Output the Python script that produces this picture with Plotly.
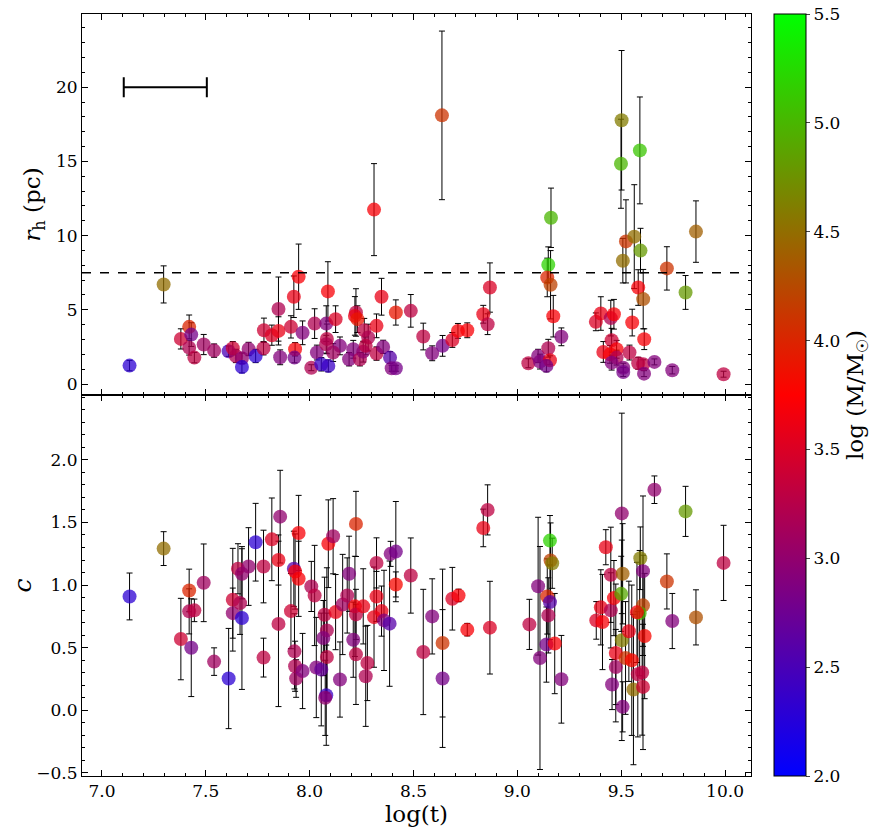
import plotly.graph_objs as go
from plotly.subplots import make_subplots

# top panel: half-light radius
t_top = [7.133, 7.297, 7.38, 7.42, 7.43, 7.42, 7.445, 7.49, 7.54, 7.61, 7.63, 7.645, 7.674, 7.674,
         7.706, 7.74, 7.778, 7.78, 7.818, 7.85, 7.85, 7.858, 7.91, 7.924, 7.947, 7.93, 7.927, 7.966,
         8.008, 8.024, 8.035, 8.056, 8.08, 8.088, 8.083, 8.09, 8.125, 8.08, 8.146, 8.113, 8.19, 8.21,
         8.223, 8.218, 8.23, 8.242, 8.258, 8.263, 8.282, 8.27, 8.31, 8.322, 8.346, 8.322, 8.354, 8.387,
         8.395, 8.415, 8.415, 8.487, 8.547, 8.59, 8.637, 8.64, 8.687, 8.714, 8.759, 8.836, 8.857, 8.868,
         9.053, 9.1, 9.109, 9.149, 9.157, 9.14, 9.149, 9.144, 9.16, 9.162, 9.173, 9.212, 9.378, 9.402,
         9.45, 9.465, 9.454, 9.414, 9.446, 9.478, 9.478, 9.454, 9.51, 9.51, 9.502, 9.499, 9.54, 9.523,
         9.508, 9.553, 9.563, 9.582, 9.593, 9.59, 9.582, 9.606, 9.606, 9.611, 9.61, 9.66, 9.72, 9.746,
         9.81, 9.86, 9.993]
rh = [1.24, 6.71, 3.04, 3.85, 3.33, 2.45, 1.78, 2.66, 2.25, 2.21, 2.41, 1.89, 1.74, 1.15,
      2.36, 1.89, 2.41, 3.62, 3.29, 3.58, 5.05, 1.8, 3.85, 5.88, 7.23, 2.34, 1.78, 3.45,
      1.1, 4.07, 2.12, 1.33, 4.07, 6.24, 3.04, 1.22, 4.37, 2.68, 2.57, 2.12, 1.67, 2.34,
      4.82, 4.59, 4.37, 1.67, 2.18, 3.62, 3.13, 2.57, 11.75, 3.92, 5.88, 2.05, 2.5, 1.78,
      1.06, 1.06, 4.82, 4.93, 3.2, 2.07, 18.1, 2.57, 2.97, 3.58, 3.62, 4.7, 4.03, 6.5,
      1.4, 1.89, 1.51, 2.41, 1.6, 1.22, 8.04, 7.18, 6.69, 11.2, 4.57, 3.18, 4.19, 4.75,
      4.44, 4.7, 2.95, 2.16, 2.0, 2.34, 1.78, 1.44, 1.1, 0.81, 17.77, 14.84, 2.12, 9.61,
      8.31, 4.14, 9.93, 6.5, 8.99, 15.74, 1.4, 5.72, 1.33, 3.02, 0.7, 1.49, 7.79, 0.93,
      6.17, 10.27, 0.66]
rh_err = [0.35, 1.25, 0.68, 0.8, 0.8, 0.5, 0.35, 0.68, 0.45, 0.35, 0.45, 0.45, 0.35, 0.4,
          0.45, 0.45, 0.45, 0.82, 0.68, 0.95, 2.16, 0.5, 0.75, 1.4, 2.2, 0.45, 0.35, 0.8,
          0.2, 1.0, 0.5, 0.45, 1.2, 2.0, 1.0, 0.4, 0.9, 0.6, 0.6, 0.6, 0.45, 0.6,
          1.6, 1.3, 0.9, 0.45, 0.7, 0.8, 0.9, 0.6, 3.1, 0.8, 1.24, 0.45, 0.45, 0.4,
          0.2, 0.2, 0.85, 1.1, 0.9, 0.5, 5.68, 0.7, 0.5, 0.5, 0.5, 0.6, 0.7, 1.66,
          0.3, 0.45, 0.5, 0.6, 0.3, 0.4, 1.2, 1.3, 2.3, 2.0, 1.4, 0.6, 0.6, 1.13,
          1.2, 1.0, 0.8, 0.7, 0.6, 0.6, 0.5, 0.5, 0.3, 0.3, 4.7, 3.0, 0.5, 2.8,
          1.5, 0.9, 3.5, 1.2, 1.5, 3.6, 0.4, 2.0, 0.3, 0.7, 0.2, 0.2, 1.46, 0.25,
          1.14, 2.07, 0.2]
mass_top = [2.3, 4.5, 3.4, 4.0, 2.8, 3.2, 3.3, 3.1, 3.1, 2.5, 3.4, 3.2, 3.0, 2.3,
            3.0, 2.3, 3.3, 3.4, 3.5, 3.6, 3.2, 2.9, 3.4, 3.6, 3.7, 3.7, 2.8, 2.9,
            3.2, 3.2, 2.9, 2.4, 2.9, 3.7, 3.3, 2.4, 3.5, 3.2, 2.9, 3.1, 2.9, 2.9,
            3.3, 3.6, 3.9, 3.2, 3.0, 3.3, 3.2, 3.3, 3.7, 3.6, 3.6, 3.3, 2.9, 2.6,
            2.9, 2.8, 3.9, 3.3, 3.3, 2.9, 4.1, 2.8, 3.5, 3.7, 3.7, 3.6, 3.3, 3.5,
            3.3, 2.9, 2.9, 3.2, 3.6, 2.8, 5.2, 4.0, 4.2, 5.0, 3.7, 2.9, 3.5, 3.6,
            3.2, 3.7, 3.4, 3.6, 3.7, 3.7, 3.2, 2.9, 2.9, 2.8, 4.6, 5.0, 3.3, 4.1,
            4.5, 3.7, 4.5, 3.7, 4.8, 5.1, 3.3, 4.3, 3.3, 3.7, 2.9, 2.9, 4.1, 2.9,
            4.8, 4.4, 3.3]

# bottom panel: concentration
t_bot = [7.133, 7.297, 7.38, 7.42, 7.43, 7.42, 7.445, 7.49, 7.54, 7.61, 7.63, 7.63, 7.665, 7.674,
         7.655, 7.674, 7.706, 7.74, 7.778, 7.778, 7.818, 7.85, 7.85, 7.858, 7.91, 7.924, 7.947, 7.93,
         7.947, 7.927, 7.93, 7.935, 7.966, 8.008, 8.024, 8.032, 8.056, 8.072, 8.083, 8.066, 8.083, 8.08,
         8.075, 8.09, 8.113, 8.125, 8.146, 8.159, 8.181, 8.19, 8.21, 8.218, 8.223, 8.223, 8.223, 8.258,
         8.27, 8.278, 8.322, 8.322, 8.31, 8.346, 8.358, 8.385, 8.39, 8.415, 8.415, 8.487, 8.547, 8.59,
         8.64, 8.64, 8.687, 8.717, 8.759, 8.836, 8.857, 8.868, 9.058, 9.1, 9.109, 9.14, 9.144, 9.157,
         9.149, 9.157, 9.16, 9.168, 9.18, 9.212, 9.38, 9.402, 9.41, 9.426, 9.45, 9.45, 9.465, 9.474,
         9.474, 9.456, 9.503, 9.507, 9.5, 9.503, 9.507, 9.521, 9.537, 9.551, 9.559, 9.58, 9.592, 9.605,
         9.605, 9.589, 9.576, 9.613, 9.601, 9.605, 9.66, 9.72, 9.746, 9.81, 9.86, 9.993]
conc = [0.909, 1.291, 0.569, 0.957, 0.5, 0.79, 0.798, 1.018, 0.389, 0.254, 0.883, 0.776, 0.856, 0.737,
        1.13, 1.09, 1.148, 1.342, 1.148, 0.421, 1.365, 1.2, 0.69, 1.546, 0.792, 1.13, 1.416, 1.108,
        1.05, 0.471, 0.352, 0.254, 0.314, 0.989, 0.917, 0.342, 0.326, 0.763, 0.638, 0.577, 0.426, 0.121,
        0.1, 1.33, 1.39, 0.784, 0.246, 0.845, 0.917, 1.09, 0.564, 0.83, 1.488, 0.766, 0.447, 0.83,
        0.272, 0.378, 1.177, 0.909, 0.744, 0.792, 0.718, 0.692, 1.249, 1.267, 1.005, 1.076, 0.466, 0.75,
        0.537, 0.254, 0.891, 0.917, 0.644, 1.456, 1.6, 0.66, 0.686, 0.991, 0.418, 0.525, 0.909, 0.864,
        0.758, 1.355, 1.196, 1.174, 0.533, 0.248, 0.718, 0.822, 0.705, 1.302, 1.082, 0.798, 0.896, 0.458,
        0.346, 0.206, 1.572, 1.09, 0.93, 0.559, 0.028, 0.418, 0.631, 0.4, 0.166, 0.288, 1.214, 1.111,
        0.838, 0.776, 0.782, 0.593, 0.302, 0.187, 1.761, 1.029, 0.713, 1.588, 0.742, 1.177]
conc_err = [0.187, 0.135, 0.325, 0.17, 0.39, 0.18, 0.09, 0.31, 0.11, 0.4, 0.41, 0.2, 0.25, 0.57,
            0.2, 0.2, 0.31, 0.31, 0.29, 0.155, 0.33, 0.2, 0.66, 0.37, 0.3, 0.3, 0.3, 0.3,
            0.3, 0.3, 0.2, 0.15, 0.3, 0.2, 0.4, 0.4, 0.45, 0.3, 0.5, 0.3, 0.35, 0.4,
            0.3, 0.35, 0.3, 0.3, 0.3, 0.4, 0.3, 0.3, 0.3, 0.4, 0.26, 0.2, 0.4, 0.3,
            0.4, 0.3, 0.2, 0.2, 0.4, 0.2, 0.4, 0.5, 0.1, 0.4, 0.1, 0.3, 0.5, 0.3,
            0.59, 0.55, 0.25, 0.05, 0.05, 0.15, 0.2, 0.37, 0.2, 0.55, 0.89, 0.3, 0.3, 0.3,
            0.3, 0.2, 0.3, 0.2, 0.4, 0.35, 0.15, 0.3, 0.38, 0.14, 0.38, 0.3, 0.3, 0.55,
            0.3, 0.2, 0.8, 0.4, 0.3, 0.8, 0.2, 0.45, 0.4, 0.6, 0.6, 0.5, 0.25, 0.6,
            0.4, 0.5, 0.4, 0.5, 0.5, 0.5, 0.11, 0.22, 0.22, 0.2, 0.22, 0.3]
mass_bot = [2.3, 4.5, 3.4, 4.0, 2.8, 3.2, 3.3, 3.1, 3.1, 2.3, 3.4, 3.0, 3.2, 2.3,
            3.3, 3.0, 3.0, 2.3, 3.3, 3.3, 3.5, 3.6, 3.3, 3.0, 3.4, 2.6, 3.7, 3.7,
            3.7, 3.2, 3.2, 3.1, 2.9, 3.2, 3.3, 2.9, 2.7, 3.3, 3.2, 2.9, 3.3, 2.4,
            3.0, 3.7, 3.1, 3.6, 2.9, 3.1, 3.2, 2.9, 2.9, 3.7, 4.0, 3.3, 3.3, 3.6,
            3.2, 3.3, 3.3, 3.6, 3.6, 3.6, 2.9, 2.6, 2.9, 2.8, 3.8, 3.3, 3.3, 2.9,
            4.1, 2.8, 3.5, 3.7, 3.7, 3.6, 3.3, 3.5, 3.3, 2.9, 2.9, 2.8, 4.0, 2.6,
            3.2, 5.2, 4.2, 4.6, 3.7, 2.9, 3.5, 3.6, 3.7, 3.6, 3.3, 3.2, 3.7, 3.6,
            3.1, 2.9, 3.0, 4.4, 4.9, 4.6, 2.9, 4.1, 3.6, 3.8, 4.5, 3.3, 4.6, 2.9,
            4.2, 5.0, 3.7, 3.8, 3.3, 3.4, 3.0, 4.1, 2.9, 4.8, 4.3, 3.3]

# typical age uncertainty shown as a bar in the corner
age_bar_t = [7.305]
age_bar_y = [20]
age_bar_err = [0.2]
rh_limit = 7.5
mass_ticks = [2.0, 2.5, 3.0, 3.5, 4.0, 4.5, 5.0, 5.5]

serif = "DejaVu Serif"
fig = make_subplots(rows=2, cols=1, shared_xaxes=True, vertical_spacing=0)

fig.add_trace(go.Scatter(
    x=t_top, y=rh, mode="markers",
    error_y=dict(type="data", array=rh_err, color="black", thickness=1, width=3),
    marker=dict(color=mass_top, coloraxis="coloraxis", size=14, opacity=0.75, line=dict(width=0)),
    showlegend=False), row=1, col=1)

fig.add_trace(go.Scatter(
    x=t_bot, y=conc, mode="markers",
    error_y=dict(type="data", array=conc_err, color="black", thickness=1, width=3),
    marker=dict(color=mass_bot, coloraxis="coloraxis", size=14, opacity=0.75, line=dict(width=0)),
    showlegend=False), row=2, col=1)

fig.add_trace(go.Scatter(
    x=age_bar_t, y=age_bar_y, mode="markers", marker=dict(size=0.1, color="black"),
    error_x=dict(type="data", array=age_bar_err, color="black", thickness=2, width=10),
    showlegend=False, hoverinfo="skip"), row=1, col=1)

fig.add_hline(y=rh_limit, line=dict(color="black", width=1.5, dash="dash"), row=1, col=1)

axis_common = dict(showline=True, linecolor="black", linewidth=1, mirror="allticks",
                   ticks="inside", ticklen=6, tickcolor="black", showgrid=False, zeroline=False,
                   automargin=False, tickfont=dict(family=serif, size=17, color="black"))
minor_x = dict(ticks="inside", ticklen=3, dtick=0.1, tickcolor="black", showgrid=False)

fig.update_xaxes(**axis_common, range=[6.904, 10.125], dtick=0.5, tick0=7.0, minor=minor_x)
fig.update_xaxes(showticklabels=False, row=1, col=1)
fig.update_xaxes(title=dict(text="log(t)", font=dict(family=serif, size=23, color="black"), standoff=2),
                 tickformat=".1f", row=2, col=1)

fig.update_yaxes(**axis_common, range=[-0.74, 24.93], tickvals=[0, 5, 10, 15, 20],
                 minor=dict(ticks="inside", ticklen=3, dtick=1, tickcolor="black", showgrid=False),
                 title=dict(text="<i>r</i><sub>h</sub> (pc)", font=dict(family=serif, size=23, color="black"),
                            standoff=8),
                 row=1, col=1)
fig.update_yaxes(**axis_common, range=[-0.524, 2.517], tickvals=[-0.5, 0.0, 0.5, 1.0, 1.5, 2.0],
                 tickformat=".1f",
                 minor=dict(ticks="inside", ticklen=3, dtick=0.1, tickcolor="black", showgrid=False),
                 title=dict(text="<i>c</i>", font=dict(family=serif, size=25, color="black"), standoff=8),
                 row=2, col=1)

# page body adds an 8px offset, so the figure is 8px smaller than the window
fig.update_layout(
    width=873, height=823,
    margin=dict(l=74, r=130, t=6, b=55, autoexpand=False),
    plot_bgcolor="white", paper_bgcolor="white",
    font=dict(family=serif, color="black"),
    coloraxis=dict(
        cmin=2.0, cmax=5.5,
        colorscale=[[0, "rgb(0,0,255)"], [0.5, "rgb(255,0,0)"], [1, "rgb(0,255,0)"]],
        colorbar=dict(x=1.019, xanchor="left", y=0, yanchor="bottom", len=1, lenmode="fraction",
                      ypad=0, thickness=32, outlinecolor="black", outlinewidth=1,
                      tickvals=mass_ticks, tickformat=".1f", ticklabeloverflow="allow",
                      ticks="outside", ticklen=4, tickfont=dict(family=serif, size=17, color="black"),
                      title=dict(text="log (M/M<sub>☉</sub>)", side="right",
                                 font=dict(family=serif, size=23, color="black"))),
    ),
)

fig.write_html("out.html")
